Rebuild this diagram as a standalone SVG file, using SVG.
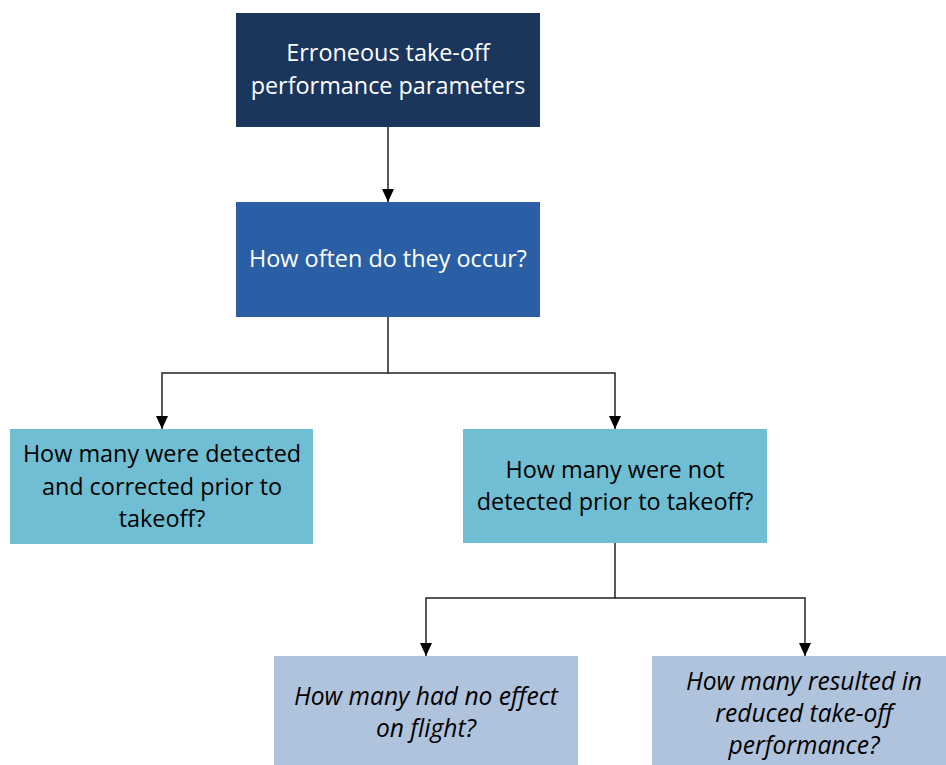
<svg xmlns="http://www.w3.org/2000/svg" width="946" height="765" viewBox="0 0 946 765">
<style>
text{font-family:"Open Sans","Liberation Sans",sans-serif;font-size:23.4px;text-anchor:middle}
.w{fill:#ffffff}
.k{fill:#000000}
.i{font-style:italic;font-size:24.6px}
.c{fill:none;stroke:#222222;stroke-width:1.5}
</style>
<defs>
<marker id="ah" markerWidth="13" markerHeight="12" refX="13" refY="6" orient="auto" markerUnits="userSpaceOnUse" viewBox="0 0 13 12">
<path d="M0,0 L13,6 L0,12 Z" fill="#000"/>
</marker>
</defs>
<g id="connectors">
<path class="c" d="M388,127 V202" marker-end="url(#ah)"/>
<path class="c" d="M388,317 V373 H162 V429" marker-end="url(#ah)"/>
<path class="c" d="M388,373 H615 V429" marker-end="url(#ah)"/>
<path class="c" d="M615,543 V598 H426 V656" marker-end="url(#ah)"/>
<path class="c" d="M615,598 H805 V656" marker-end="url(#ah)"/>
</g>
<g id="n1">
<rect x="236" y="13" width="304" height="114" fill="#1b365d"/>
<text class="w" x="388" y="61">Erroneous take-off</text>
<text class="w" x="388" y="94">performance parameters</text>
</g>
<g id="n2">
<rect x="236" y="202" width="304" height="115" fill="#2a5fa5"/>
<text class="w" x="388" y="267">How often do they occur?</text>
</g>
<g id="n3">
<rect x="10" y="429" width="303" height="115" fill="#70bed3"/>
<text class="k" x="162" y="462">How many were detected</text>
<text class="k" x="162" y="495">and corrected prior to</text>
<text class="k" x="162" y="527">takeoff?</text>
</g>
<g id="n4">
<rect x="463" y="429" width="304" height="114" fill="#70bed3"/>
<text class="k" x="615" y="478">How many were not</text>
<text class="k" x="615" y="510">detected prior to takeoff?</text>
</g>
<g id="n5">
<rect x="274" y="656" width="304" height="109" fill="#b0c3dd"/>
<text class="k i" x="426" y="705">How many had no effect</text>
<text class="k i" x="426" y="737">on flight?</text>
</g>
<g id="n6">
<rect x="652" y="656" width="294" height="109" fill="#b0c3dd"/>
<text class="k i" x="804" y="690">How many resulted in</text>
<text class="k i" x="804" y="722">reduced take-off</text>
<text class="k i" x="804" y="754">performance?</text>
</g>
</svg>
